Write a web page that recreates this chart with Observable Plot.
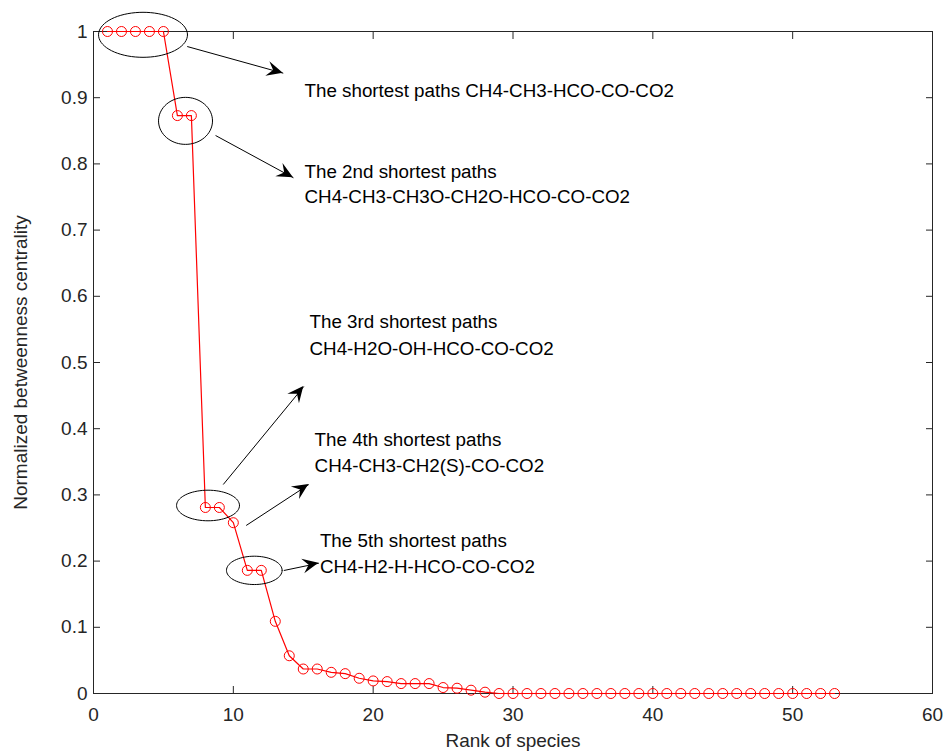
<!DOCTYPE html>
<html>
<head>
<meta charset="utf-8">
<script src="https://cdn.jsdelivr.net/npm/d3@7"></script>
<script src="https://cdn.jsdelivr.net/npm/@observablehq/plot@0.6"></script>
<style>
  html, body { margin: 0; padding: 0; background: #ffffff; }
  #chart svg { display: block; }
</style>
</head>
<body>
<div id="chart"></div>
<script>
// ---- data ----
const rank = [1,2,3,4,5,6,7,8,9,10,11,12,13,14,15,16,17,18,19,20,21,22,23,24,25,26,27,28,29,30,
              31,32,33,34,35,36,37,38,39,40,41,42,43,44,45,46,47,48,49,50,51,52,53];
const betweenness = [1,1,1,1,1,0.873,0.873,0.281,0.281,0.258,0.186,0.186,0.109,0.057,0.037,0.037,
                     0.032,0.030,0.023,0.019,0.018,0.015,0.015,0.015,0.009,0.008,0.005,0.002,
                     0,0,0,0,0,0,0,0,0,0,0,0,0,0,0,0,0,0,0,0,0,0,0,0,0];

const xTicks = [0,10,20,30,40,50,60];
const yTicks = [0,0.1,0.2,0.3,0.4,0.5,0.6,0.7,0.8,0.9,1];
const xLabel = "Rank of species";
const yLabel = "Normalized betweenness centrality";

// ellipses highlighting groups (centre and radii in data units)
const ellipseCx = [3.54, 6.58, 8.19, 11.5];
const ellipseCy = [0.995, 0.865, 0.284, 0.186];
const ellipseRx = [3.18, 1.93, 2.25, 1.99];
const ellipseRy = [0.034, 0.0355, 0.0231, 0.0214];

// arrows (start -> tip, data units)
const arrowX1 = [6.70, 8.73, 9.28, 10.92, 13.61];
const arrowY1 = [0.9773, 0.8429, 0.3157, 0.2538, 0.1858];
const arrowX2 = [13.57, 14.30, 15.04, 15.40, 16.12];
const arrowY2 = [0.9370, 0.7790, 0.4637, 0.3157, 0.1968];

// annotation text lines
const noteLines = [
  "The shortest paths CH4-CH3-HCO-CO-CO2",
  "The 2nd shortest paths",
  "CH4-CH3-CH3O-CH2O-HCO-CO-CO2",
  "The 3rd shortest paths",
  "CH4-H2O-OH-HCO-CO-CO2",
  "The 4th shortest paths",
  "CH4-CH3-CH2(S)-CO-CO2",
  "The 5th shortest paths",
  "CH4-H2-H-HCO-CO-CO2"
];
const noteX = [15.09, 15.09, 15.09, 15.45, 15.45, 15.81, 15.81, 16.19, 16.19];
const noteY = [0.9098, 0.7875, 0.7497, 0.5609, 0.5207, 0.3832, 0.3444, 0.2311, 0.1918];

// ---- build helper tables ----
const ellipsePts = [];
ellipseCx.forEach((cx, i) => {
  for (let k = 0; k <= 72; k++) {
    const t = (k / 72) * 2 * Math.PI;
    ellipsePts.push({id: i, x: cx + ellipseRx[i] * Math.cos(t), y: ellipseCy[i] + ellipseRy[i] * Math.sin(t)});
  }
});
const arrowIdx = arrowX1.map((_, i) => i);
const noteIdx = noteLines.map((_, i) => i);

const axisColor = "#262626";
const font = "'Liberation Sans', Arial, Helvetica, sans-serif";

const chart = Plot.plot({
  width: 947,
  height: 753,
  marginLeft: 93,
  marginRight: 15,
  marginTop: 31,
  marginBottom: 60,
  style: {fontFamily: font, fontSize: "19px", color: axisColor, background: "#ffffff", overflow: "visible"},
  x: {domain: [0, 60], ticks: xTicks},
  y: {domain: [0, 1], ticks: yTicks},
  marks: [
    Plot.frame({stroke: axisColor, strokeWidth: 1}),
    // tick labels
    Plot.axisX(xTicks, {anchor: "bottom", tickSize: 0, tickPadding: 14, tickFormat: d => String(d), label: null, fill: axisColor, fontSize: 19}),
    Plot.axisY(yTicks, {anchor: "left", tickSize: 0, tickPadding: 6, tickFormat: d => String(d), label: null, fill: axisColor, fontSize: 19}),
    // inward tick marks on all four sides
    Plot.axisX(xTicks, {anchor: "bottom", tickSize: -7, tickFormat: () => "", label: null, stroke: axisColor}),
    Plot.axisX(xTicks, {anchor: "top", tickSize: -7, tickFormat: () => "", label: null, stroke: axisColor}),
    Plot.axisY(yTicks, {anchor: "left", tickSize: -7, tickFormat: () => "", label: null, stroke: axisColor}),
    Plot.axisY(yTicks, {anchor: "right", tickSize: -7, tickFormat: () => "", label: null, stroke: axisColor}),
    // axis titles
    Plot.text([xLabel], {frameAnchor: "bottom", dy: 53.7, textAnchor: "middle", lineAnchor: "bottom", text: d => d, fontSize: 19, fill: axisColor}),
    Plot.text([yLabel], {frameAnchor: "left", dx: -72.5, rotate: -90, textAnchor: "middle", lineAnchor: "middle", text: d => d, fontSize: 19, fill: axisColor}),
    // series
    Plot.line(rank, {x: rank, y: betweenness, stroke: "#ff0000", strokeWidth: 1.2}),
    Plot.dot(rank, {x: rank, y: betweenness, r: 5, stroke: "#ff0000", strokeWidth: 1, fill: "none"}),
    // annotations
    Plot.line(ellipsePts, {x: "x", y: "y", z: "id", stroke: "#000000", strokeWidth: 1}),
    Plot.link(arrowIdx, {x1: i => arrowX1[i], y1: i => arrowY1[i], x2: i => arrowX2[i], y2: i => arrowY2[i], stroke: "#000000", strokeWidth: 1}),
    Plot.text(noteIdx, {x: i => noteX[i], y: i => noteY[i], text: i => noteLines[i], textAnchor: "start", lineAnchor: "middle", fontSize: 18.8, fill: "#000000"})
  ]
});

// filled arrow heads placed with the plot's own scales
const sx = chart.scale("x"), sy = chart.scale("y");
const heads = d3.select(chart).append("g").attr("fill", "#000000");
arrowIdx.forEach(i => {
  const x1 = sx.apply(arrowX1[i]), y1 = sy.apply(arrowY1[i]);
  const x2 = sx.apply(arrowX2[i]), y2 = sy.apply(arrowY2[i]);
  const ang = Math.atan2(y2 - y1, x2 - x1) * 180 / Math.PI;
  heads.append("path")
    .attr("d", "M0,0L-16,-7.5L-10,0L-16,7.5Z")
    .attr("transform", `translate(${x2},${y2}) rotate(${ang})`);
});

document.getElementById("chart").appendChild(chart);
</script>
</body>
</html>
